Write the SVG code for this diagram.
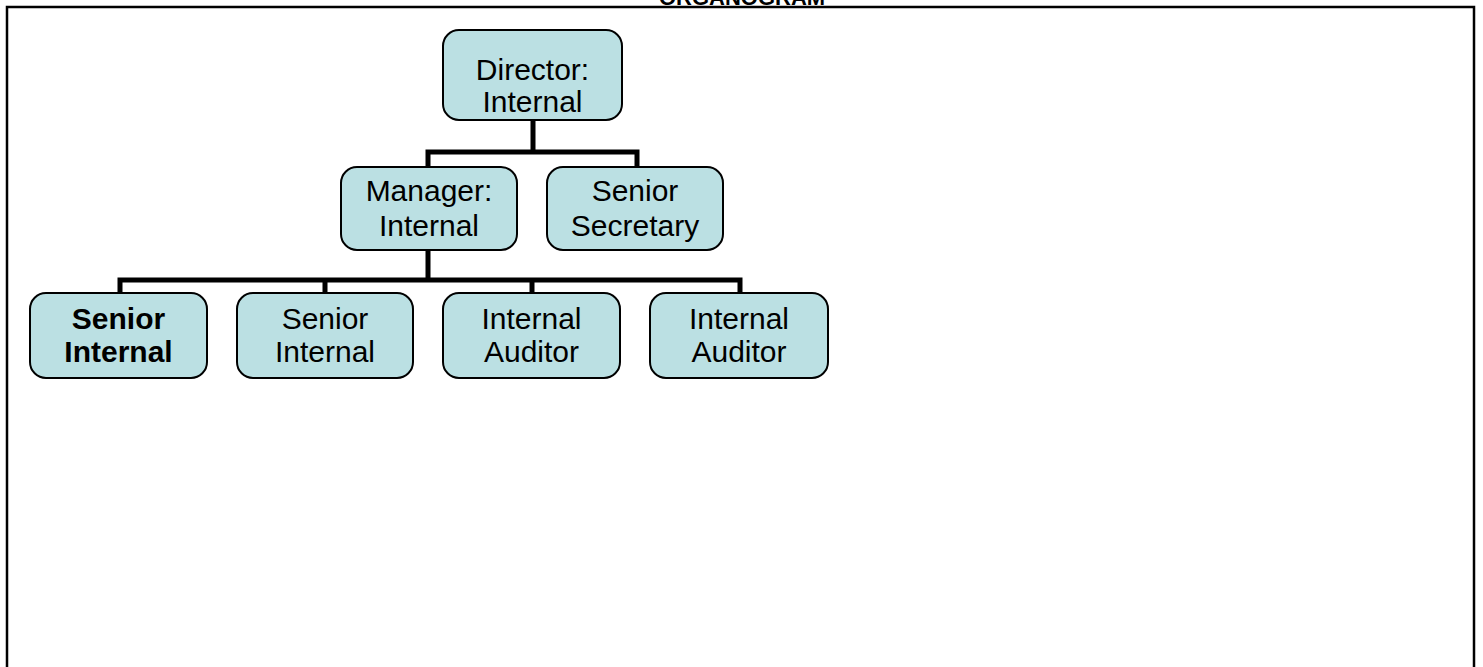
<svg xmlns="http://www.w3.org/2000/svg" width="1483" height="667" viewBox="0 0 1483 667">
<style>
.box{fill:#BBE0E3;stroke:#000;stroke-width:2}
.t{font-family:"Liberation Sans",Arial,sans-serif;font-size:30px;fill:#000;text-anchor:middle}
.b{font-weight:bold}
.c{fill:none;stroke:#000;stroke-width:5;stroke-linecap:square}
</style>
<rect x="0" y="0" width="1483" height="667" fill="#fff"/>
<text x="742" y="4.5" font-family="Liberation Sans,Arial,sans-serif" font-size="22" font-weight="bold" text-anchor="middle">ORGANOGRAM</text>
<rect x="7" y="7" width="1467" height="700" fill="none" stroke="#000" stroke-width="2.5"/>
<g id="connectors">
<path class="c" d="M533 120V152M428 152H637M428 152V167M637 152V167"/>
<path class="c" d="M428 250V280M120 280H740M120 280V293M325 280V293M532 280V293M740 280V293"/>
</g>
<g id="director">
<rect class="box" x="443" y="30" width="179" height="90" rx="16"/>
<text class="t" x="532.5" y="80">Director:</text>
<text class="t" x="532.5" y="112">Internal</text>
</g>
<g id="manager">
<rect class="box" x="341" y="167" width="176" height="83" rx="16"/>
<text class="t" x="429" y="201">Manager:</text>
<text class="t" x="429" y="236">Internal</text>
</g>
<g id="secretary">
<rect class="box" x="547" y="167" width="176" height="83" rx="16"/>
<text class="t" x="635" y="201">Senior</text>
<text class="t" x="635" y="236">Secretary</text>
</g>
<g id="senior-internal-1">
<rect class="box" x="30" y="293" width="177" height="85" rx="16"/>
<text class="t b" x="118.5" y="329">Senior</text>
<text class="t b" x="118.5" y="362">Internal</text>
</g>
<g id="senior-internal-2">
<rect class="box" x="237" y="293" width="176" height="85" rx="16"/>
<text class="t" x="325" y="329">Senior</text>
<text class="t" x="325" y="362">Internal</text>
</g>
<g id="internal-auditor-1">
<rect class="box" x="443" y="293" width="177" height="85" rx="16"/>
<text class="t" x="531.5" y="329">Internal</text>
<text class="t" x="531.5" y="362">Auditor</text>
</g>
<g id="internal-auditor-2">
<rect class="box" x="650" y="293" width="178" height="85" rx="16"/>
<text class="t" x="739" y="329">Internal</text>
<text class="t" x="739" y="362">Auditor</text>
</g>
</svg>
